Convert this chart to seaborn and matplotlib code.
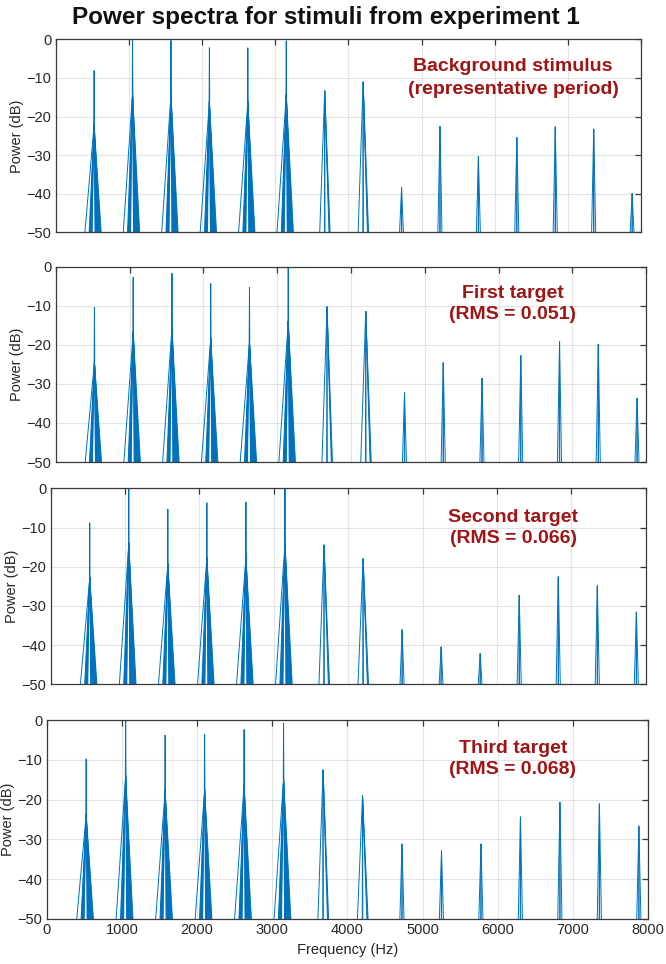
import matplotlib
matplotlib.use("Agg")
import matplotlib.pyplot as plt
import seaborn as sns
import pandas as pd

# harmonic frequencies (Hz), same for all four stimuli
freqs_hz = [525, 1050, 1575, 2100, 2625, 3150, 3675, 4200, 4725, 5250, 5775, 6300, 6825, 7350, 7875]

# peak power (dB) of each harmonic
bg_peaks_db = [-8.1, 0.0, -0.3, -2.2, -2.2, -0.4, -13.4, -11.1, -38.5, -22.6, -30.4, -25.5, -22.7, -23.3, -40.0]
t1_peaks_db = [-10.4, -2.7, -1.7, -4.3, -5.3, 0.0, -10.3, -11.5, -32.3, -24.6, -28.6, -22.8, -19.2, -19.9, -33.7]
t2_peaks_db = [-8.8, 0.0, -5.3, -3.7, -3.5, 0.0, -14.5, -18.0, -36.1, -40.5, -42.2, -27.3, -22.6, -24.9, -31.6]
t3_peaks_db = [-9.8, 0.0, -3.8, -3.6, -2.4, -0.9, -12.6, -19.0, -31.2, -32.9, -31.2, -24.4, -20.7, -21.1, -26.7]

panel_notes = ["Background stimulus\n(representative period)",
               "First target\n(RMS = 0.051)",
               "Second target\n(RMS = 0.066)",
               "Third target\n(RMS = 0.068)"]

# base offsets (Hz) of the skirt lines around each peak
wide_offsets = [-130, -70, -58, -46, -34, 14, 26, 38, 50, 62, 74, 86, 100]
medium_offsets = [-70, -4, 4, 60, 68, 76]
narrow_offsets = [-30, -3, 3, 28]

FLOOR = -50
BLUE = "#0072BD"
RED = "#A01414"


def peak_table(peaks):
    rows = []
    seg = 0
    for i, (f, p) in enumerate(zip(freqs_hz, peaks)):
        if i < 6:
            top = p - 14
            offs = wide_offsets
            # thin spike above the skirt
            for x, y in [(f - 4, top), (f, p), (f + 4, top)]:
                rows.append((seg, x, y))
            seg += 1
        elif i < 8:
            top = p
            offs = medium_offsets
        else:
            top = p
            offs = narrow_offsets
        for o in offs:
            rows.append((seg, f, top))
            rows.append((seg, f + o, FLOOR - 1))
            seg += 1
    return pd.DataFrame(rows, columns=["seg", "freq", "power"])


sns.set_theme(style="white")
plt.rcParams["font.family"] = ["Liberation Sans", "DejaVu Sans"]

fig = plt.figure(figsize=(6.66, 9.64), dpi=100)
rects = [(0.0836, 0.7590, 0.8793, 0.2002),
         (0.0836, 0.5207, 0.8868, 0.2026),
         (0.0761, 0.2901, 0.8934, 0.2033),
         (0.0701, 0.0467, 0.9033, 0.2064)]
note_pos = [(0.781, 0.80, 1.5), (0.774, 0.81, 1.3), (0.777, 0.797, 1.3), (0.775, 0.805, 1.35)]
ylabel_x_px = [24, 24, 19, 15]
all_peaks = [bg_peaks_db, t1_peaks_db, t2_peaks_db, t3_peaks_db]

for k, (rect, peaks, note) in enumerate(zip(rects, all_peaks, panel_notes)):
    ax = fig.add_axes(rect)
    df = peak_table(peaks)
    sns.lineplot(data=df, x="freq", y="power", units="seg", estimator=None,
                 sort=False, color=BLUE, lw=0.7, ax=ax, legend=False)
    # dense filled skirts of the strong low harmonics
    for f, p in zip(freqs_hz[:6], peaks[:6]):
        top = p - 14
        ax.fill([f - 70, f - 2, f - 20], [FLOOR - 1, top, FLOOR - 1], color=BLUE, lw=0)
        ax.fill([f + 10, f + 2, f + 100], [FLOOR - 1, top, FLOOR - 1], color=BLUE, lw=0)

    ax.set_xlim(0, 8000)
    ax.set_ylim(-50, 0)
    ax.set_xticks(range(0, 8001, 1000))
    ax.set_yticks(range(-50, 1, 10))
    ax.grid(True, color="#E3E3E3", lw=0.8)
    ax.set_axisbelow(True)
    for s in ax.spines.values():
        s.set_color("#3A3A3A")
        s.set_linewidth(0.9)
    ax.tick_params(direction="in", length=4, width=0.9, color="#3A3A3A",
                   top=True, right=True, labelsize=10.5, labelcolor="#262626", pad=3)
    ax.set_ylabel("Power (dB)", fontsize=10.5, color="#262626")
    ax.yaxis.set_label_coords(ylabel_x_px[k] / 666, rect[1] + rect[3] / 2,
                              transform=fig.transFigure)
    if k < 3:
        ax.set_xticklabels([])
        ax.set_xlabel("")
    else:
        ax.set_xlabel("Frequency (Hz)", fontsize=10.5, color="#262626", labelpad=4)
    nx, ny, ls = note_pos[k]
    ax.text(nx, ny, note, transform=ax.transAxes, ha="center", va="center",
            color=RED, fontsize=14, fontweight="bold", linespacing=ls)

fig.suptitle("Power spectra for stimuli from experiment 1", x=0.49, y=0.994,
             va="top", fontsize=17.5, fontweight="bold", color="#111111")

fig.savefig("out.png", dpi=100)
